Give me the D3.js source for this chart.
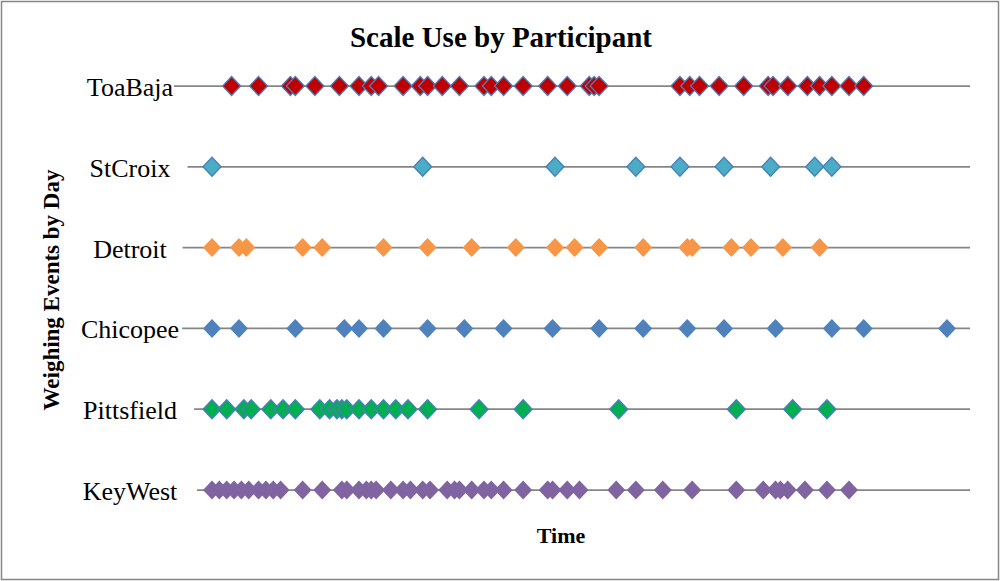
<!DOCTYPE html>
<html>
<head>
<meta charset="utf-8">
<script src="https://cdn.jsdelivr.net/npm/d3@7/dist/d3.min.js"></script>
<style>
  body { margin: 0; background: #fff; }
  text { font-family: "Liberation Serif", "Times New Roman", serif; }
</style>
</head>
<body>
<div id="chart"></div>
<script>
// participants, top to bottom
var sites = ["ToaBaja", "StCroix", "Detroit", "Chicopee", "Pittsfield", "KeyWest"];

// weighing events, day of study
var toaBaja = [8, 19, 32, 34, 42, 52, 60, 65, 68, 78, 85, 88, 94, 101, 111, 114, 119, 127, 137, 145, 154, 156, 158,
  191, 195, 199, 207, 217, 227, 229, 235, 243, 248, 253, 260, 266];
var stCroix = [0, 86, 140, 173, 191, 209, 228, 246, 253];
var detroit = [0, 11, 14, 37, 45, 70, 88, 106, 124, 140, 148, 158, 176, 194, 196, 212, 220, 233, 248];
var chicopee = [0, 11, 34, 54, 60, 70, 88, 103, 119, 139, 158, 176, 194, 209, 230, 253, 266, 300];
var pittsfield = [0, 6, 13, 16, 24, 29, 34, 44, 48, 51, 53, 55, 60, 65, 70, 75, 80, 88, 109, 127, 166, 214, 237, 251];
var keyWest = [0, 3, 6, 9, 12, 15, 19, 22, 25, 28, 37, 45, 53, 55, 60, 63, 65, 67, 73, 78, 81, 86, 89,
  96, 99, 101, 106, 111, 114, 119, 127, 137, 139, 145, 150, 165, 173, 184, 196, 214, 225, 230, 232, 235,
  242, 251, 260];

// where each grey row line begins and ends (days)
var lineStart = [-15.5, -10, -12, -12.2, -7.3, -6.1];
var lineEnd = 309.4;

var series = [
  { name: "ToaBaja", days: toaBaja, fill: "#C00000", stroke: "#4a7ebb" },
  { name: "StCroix", days: stCroix, fill: "#4BACC6", stroke: "#4a7ebb" },
  { name: "Detroit", days: detroit, fill: "#F79646", stroke: "none" },
  { name: "Chicopee", days: chicopee, fill: "#4F81BD", stroke: "none" },
  { name: "Pittsfield", days: pittsfield, fill: "#00B050", stroke: "#4a7ebb" },
  { name: "KeyWest", days: keyWest, fill: "#8064A2", stroke: "none" }
];

var width = 1000, height = 581;

var svg = d3.select("#chart")
    .append("svg")
    .attr("width", width)
    .attr("height", height);

svg.append("rect")
    .attr("x", 1.5).attr("y", 1.5)
    .attr("width", width - 3).attr("height", height - 3)
    .attr("fill", "#fff")
    .attr("stroke", "#868686")
    .attr("stroke-width", 1.5);

var x = d3.scaleLinear().domain([0, 300]).range([212, 947]);
var y = d3.scalePoint().domain(sites).range([86, 490]);

// title
svg.append("text")
    .attr("x", 501).attr("y", 47)
    .attr("text-anchor", "middle")
    .style("font-weight", "bold")
    .style("font-size", "29px")
    .text("Scale Use by Participant");

// axis titles
svg.append("text")
    .attr("transform", "translate(59,290) rotate(-90)")
    .attr("text-anchor", "middle")
    .style("font-weight", "bold")
    .style("font-size", "23px")
    .text("Weighing Events by Day");

svg.append("text")
    .attr("x", 561).attr("y", 543)
    .attr("text-anchor", "middle")
    .style("font-weight", "bold")
    .style("font-size", "22px")
    .text("Time");

var diamond = "M0,-9.5L9,0L0,9.5L-9,0Z";

var rows = svg.selectAll("g.row")
    .data(series)
  .enter().append("g")
    .attr("class", "row");

rows.append("text")
    .attr("x", 130)
    .attr("y", function(d) { return y(d.name) + 10; })
    .attr("text-anchor", "middle")
    .style("font-size", "26px")
    .text(function(d) { return d.name; });

rows.append("line")
    .attr("x1", function(d, i) { return x(lineStart[i]); })
    .attr("x2", x(lineEnd))
    .attr("y1", function(d) { return y(d.name); })
    .attr("y2", function(d) { return y(d.name); })
    .attr("stroke", "#868686")
    .attr("stroke-width", 1.75);

rows.each(function(s) {
  d3.select(this).selectAll("path")
      .data(s.days)
    .enter().append("path")
      .attr("d", diamond)
      .attr("transform", function(d) { return "translate(" + x(d) + "," + y(s.name) + ")"; })
      .attr("fill", s.fill)
      .attr("stroke", s.stroke)
      .attr("stroke-width", 1.3);
});
</script>
</body>
</html>
